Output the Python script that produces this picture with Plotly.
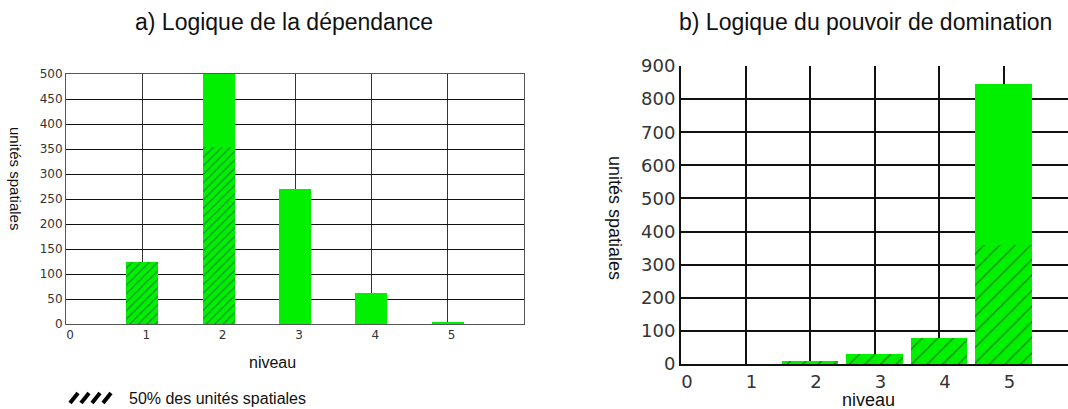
import plotly.graph_objects as go

# ---- data ----
niveaux = [1, 2, 3, 4, 5]
a_total = [125, 500, 270, 63, 3]
a_hachure = [125, 355, 0, 0, 0]
b_total = [0, 10, 30, 80, 845]
b_hachure = [0, 10, 30, 80, 360]
x_ticks = [0, 1, 2, 3, 4, 5]
x_ticktext = ["0", "1", "2", "3", "4", "5"]

title_a = "a) Logique de la dépendance"
title_b = "b) Logique du pouvoir de domination"
y_title = "unités spatiales"
x_title = "niveau"
legend_label = "50% des unités spatiales"

GREEN = "#00f000"
W, H = 1068, 409
TICKFONT = "DejaVu Sans, Verdana, sans-serif"

a_rest = [t - h for t, h in zip(a_total, a_hachure)]
b_rest = [t - h for t, h in zip(b_total, b_hachure)]

fig = go.Figure()
fig.add_trace(go.Bar(x=niveaux, y=a_hachure, width=0.42, xaxis="x", yaxis="y", name=legend_label,
                     marker=dict(color=GREEN, line=dict(width=0),
                                 pattern=dict(shape="/", fgcolor="#1f2f66", bgcolor=GREEN, size=6, solidity=0.2)),
                     showlegend=False))
fig.add_trace(go.Bar(x=niveaux, y=a_rest, width=0.42, xaxis="x", yaxis="y",
                     marker=dict(color=GREEN, line=dict(width=0)), showlegend=False))
fig.add_trace(go.Bar(x=niveaux, y=b_hachure, width=0.87, xaxis="x2", yaxis="y2", name=legend_label,
                     marker=dict(color=GREEN, line=dict(width=0),
                                 pattern=dict(shape="/", fgcolor="#222222", bgcolor=GREEN, size=11, solidity=0.12)),
                     showlegend=False))
fig.add_trace(go.Bar(x=niveaux, y=b_rest, width=0.87, xaxis="x2", yaxis="y2",
                     marker=dict(color=GREEN, line=dict(width=0)), showlegend=False))

def px_x(p):
    return p / W

def px_y(p):
    return 1 - p / H

# legend icon: four thick black slashes
shapes = []
for i in range(4):
    x0 = 70 + i * 11
    shapes.append(dict(type="line", xref="paper", yref="paper",
                       x0=px_x(x0), y0=px_y(403), x1=px_x(x0 + 8), y1=px_y(393),
                       line=dict(color="black", width=4)))

def ann(text, x, y, size, angle=0, xanchor="center"):
    return dict(text=text, x=px_x(x), y=px_y(y), xref="paper", yref="paper",
                xanchor=xanchor, yanchor="middle", textangle=angle,
                showarrow=False, font=dict(size=size, color="#111"))

fig.update_layout(
    width=W, height=H, margin=dict(l=0, r=0, t=0, b=0, autoexpand=False),
    paper_bgcolor="white", plot_bgcolor="white",
    barmode="stack", bargap=0, showlegend=False,
    font=dict(family="Arial, Liberation Sans, sans-serif", color="#222"),
    xaxis=dict(domain=[px_x(66), px_x(524)], range=[0, 6], tickvals=x_ticks, ticktext=x_ticktext,
               showgrid=True, gridcolor="#333", gridwidth=1, zeroline=False, automargin=False,
               showline=True, linecolor="#555", linewidth=1, mirror=True, ticklabelshift=4,
               tickfont=dict(size=12, color="#333", family=TICKFONT), ticks="", anchor="y"),
    yaxis=dict(domain=[px_y(324), px_y(74)], range=[0, 500], dtick=50,
               showgrid=True, gridcolor="#111", gridwidth=1, zeroline=False, automargin=False,
               showline=True, linecolor="#555", linewidth=1, mirror=True,
               tickfont=dict(size=12, color="#333", family=TICKFONT), ticks="", anchor="x"),
    xaxis2=dict(domain=[px_x(681), 1.0], range=[0, 6], tickvals=x_ticks, ticktext=x_ticktext,
                showgrid=True, gridcolor="#111", gridwidth=2, zeroline=False, automargin=False,
                showline=True, linecolor="#111", linewidth=2, ticklabelshift=6,
                tickfont=dict(size=18, color="#333", family=TICKFONT), ticks="", anchor="y2"),
    yaxis2=dict(domain=[px_y(364), px_y(66)], range=[0, 900], dtick=100,
                showgrid=True, gridcolor="#111", gridwidth=2, zeroline=False, automargin=False,
                showline=True, linecolor="#111", linewidth=2,
                tickfont=dict(size=18, color="#333", family=TICKFONT), ticks="", anchor="x2"),
    shapes=shapes,
    annotations=[
        ann(title_a, 284, 22, 23),
        ann(title_b, 865, 22, 23),
        ann(y_title, 16, 178, 15, angle=90),
        ann(y_title, 615, 218, 18, angle=90),
        ann(x_title, 272, 362, 16),
        ann(x_title, 868, 400, 18),
        ann(legend_label, 127, 398, 16, xanchor="left"),
    ],
)

fig.write_html("out.html", config={"displayModeBar": False},
               post_script="document.body.style.margin='0';document.body.style.overflow='hidden';")
